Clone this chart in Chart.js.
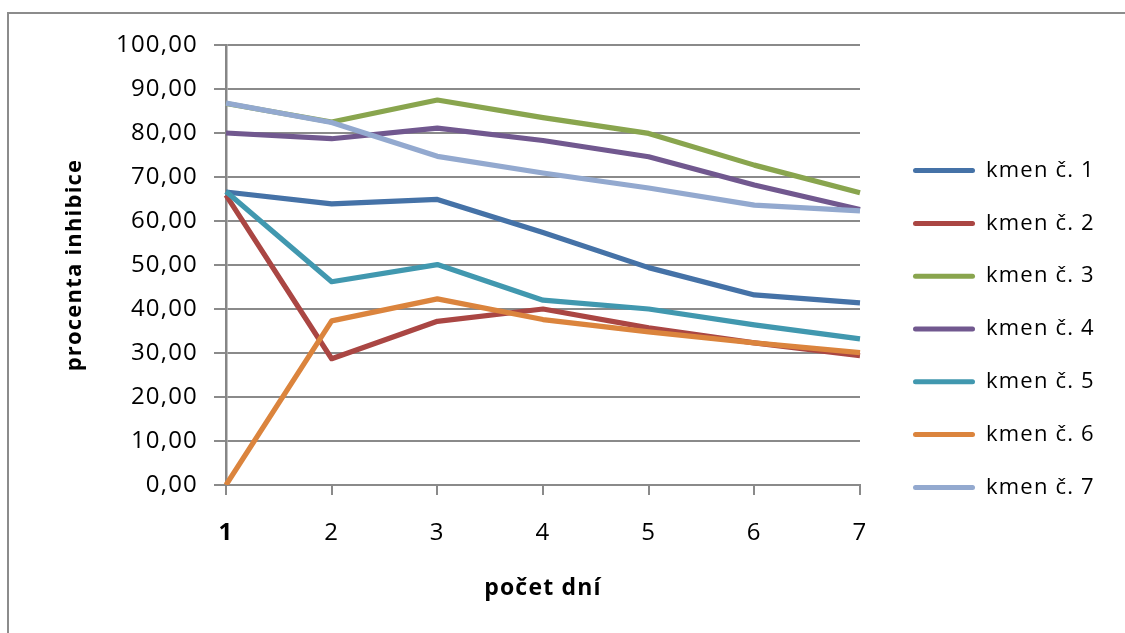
<!DOCTYPE html>
<html lang="cs">
<head>
<meta charset="utf-8">
<title>procenta inhibice</title>
<script src="https://cdn.jsdelivr.net/npm/chart.js@4.4.1/dist/chart.umd.min.js"></script>
<style>
  html, body { margin: 0; padding: 0; background: #ffffff; overflow: hidden; }
  #wrap { position: relative; width: 1125px; height: 633px; }
  #frame {
    position: absolute; left: 7px; top: 12px; width: 1300px; height: 800px;
    border-left: 2px solid #8c8c8c; border-top: 2px solid #8c8c8c;
  }
  #chart { position: absolute; left: 0; top: 0; }
</style>
</head>
<body>
<div id="wrap">
  <div id="frame"></div>
  <canvas id="chart" width="1125" height="633"></canvas>
</div>
<script>
// days of measurement
const days = ['1', '2', '3', '4', '5', '6', '7'];

// strain names (legend)
const strainNames = ['kmen č. 1', 'kmen č. 2', 'kmen č. 3', 'kmen č. 4', 'kmen č. 5', 'kmen č. 6', 'kmen č. 7'];

// inhibition percentage per strain and day
const kmen1 = [66.6, 63.9, 64.9, 57.4, 49.4, 43.2, 41.4];
const kmen2 = [65.9, 28.7, 37.2, 40.0, 35.7, 32.3, 29.4];
const kmen3 = [86.7, 82.5, 87.5, 83.5, 79.9, 72.7, 66.4];
const kmen4 = [80.0, 78.7, 81.1, 78.3, 74.6, 68.2, 62.6];
const kmen5 = [66.7, 46.2, 50.1, 42.0, 40.0, 36.4, 33.2];
const kmen6 = [0.0, 37.3, 42.3, 37.6, 34.8, 32.3, 30.1];
const kmen7 = [86.8, 82.4, 74.7, 70.9, 67.5, 63.6, 62.3];

// y axis range and step
const yMin = 0;
const yMax = 100;
const yStep = 10;

const seriesValues = [kmen1, kmen2, kmen3, kmen4, kmen5, kmen6, kmen7];
const seriesColors = ['#4572A7', '#AA4643', '#89A54E', '#71588F', '#4198AF', '#DB843D', '#93A9CF'];

const FONT = "'Open Sans', 'Noto Sans', sans-serif";
const GRID = '#8a8a8a';
const TRACKING = '1.2px';

// plot area geometry
const PLOT_LEFT = 226;
const PLOT_RIGHT = 860;
const PLOT_TOP = 45;
const PLOT_BOTTOM = 485;
const CANVAS_W = 1125;
const CANVAS_H = 633;
const PAD_BOTTOM = 20;
const LEGEND_FONT = 22;
const LEGEND_PAD = 30.8;
const LEGEND_BOX_X = 913;
const GAP = LEGEND_BOX_X - PLOT_RIGHT - LEGEND_PAD;

// slightly wider text tracking for all labels
const textTracking = {
  id: 'textTracking',
  beforeUpdate(chart) { chart.ctx.letterSpacing = TRACKING; },
  beforeDraw(chart) { chart.ctx.letterSpacing = TRACKING; }
};

const datasets = seriesValues.map((vals, i) => ({
  label: strainNames[i],
  data: vals,
  borderColor: seriesColors[i],
  backgroundColor: seriesColors[i],
  borderWidth: 5.2,
  pointRadius: 0,
  pointHoverRadius: 0,
  tension: 0,
  fill: false,
  borderJoinStyle: 'round',
  order: seriesValues.length - 1 - i
}));

const chart = new Chart(document.getElementById('chart'), {
  type: 'line',
  data: { labels: days, datasets },
  plugins: [textTracking],
  options: {
    responsive: false,
    animation: false,
    devicePixelRatio: 1,
    layout: { padding: { top: PLOT_TOP, right: 0, bottom: PAD_BOTTOM, left: 0 } },
    plugins: {
      tooltip: { enabled: false },
      legend: {
        position: 'right',
        align: 'center',
        labels: {
          boxWidth: 62,
          boxHeight: 5,
          padding: LEGEND_PAD,
          color: '#000000',
          font: { family: FONT, size: LEGEND_FONT },
          useBorderRadius: true,
          borderRadius: 2.5,
          sort: (a, b) => a.datasetIndex - b.datasetIndex,
          generateLabels(c) {
            const items = Chart.defaults.plugins.legend.labels.generateLabels(c);
            items.forEach(it => { it.lineWidth = 0; });
            return items;
          }
        }
      }
    },
    scales: {
      x: {
        type: 'category',
        offset: false,
        grid: { drawOnChartArea: false, drawTicks: true, tickLength: 10, color: GRID, lineWidth: 2 },
        border: { display: true, color: GRID, width: 2 },
        ticks: {
          color: '#000000',
          padding: 24,
          maxRotation: 0,
          font: (ctx) => ({ family: FONT, size: 24, weight: ctx.index === 0 ? 'bold' : 'normal' })
        },
        title: {
          display: true,
          text: 'počet dní',
          color: '#000000',
          font: { family: FONT, size: 23, weight: 'bold' },
          padding: { top: 0, bottom: 11.2 }
        },
        afterFit(scale) { scale.height = CANVAS_H - PAD_BOTTOM - PLOT_BOTTOM; }
      },
      y: {
        position: 'left',
        min: yMin,
        max: yMax,
        grid: { color: GRID, lineWidth: 2, tickLength: 12, drawTicks: true },
        border: { display: true, color: '#868686', width: 2.5 },
        ticks: {
          stepSize: yStep,
          color: '#000000',
          padding: 16,
          font: { family: FONT, size: 24 },
          callback: (v) => Number(v).toFixed(2).replace('.', ',')
        },
        title: {
          display: true,
          text: 'procenta inhibice',
          color: '#000000',
          font: { family: FONT, size: 22, weight: 'bold' },
          padding: { top: 61.8, bottom: 0 }
        },
        afterFit(scale) { scale.width = PLOT_LEFT; }
      },
      gap: {
        position: 'right',
        display: true,
        grid: { display: false, drawTicks: false },
        ticks: { display: false },
        border: { display: false },
        afterFit(scale) { scale.width = GAP; }
      }
    }
  }
});

// let the legend take the full width of its labels instead of a share of the canvas
const legendBox = chart.legend;
const legendUpdate = legendBox.update.bind(legendBox);
legendBox.update = (maxW, maxH, margins) =>
  legendUpdate(Math.max(maxW, CANVAS_W - PLOT_RIGHT - GAP), maxH, margins);
chart.update();

// leave exactly the space the legend needs on the right
chart.options.layout.padding.right = Math.max(0, CANVAS_W - PLOT_RIGHT - GAP - chart.legend.width);
chart.update();
</script>
</body>
</html>
